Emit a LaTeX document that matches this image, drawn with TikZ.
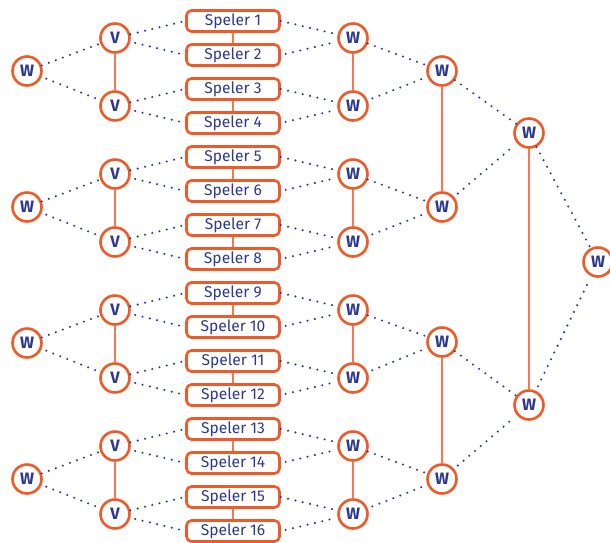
\documentclass[tikz,border=0pt]{standalone}
\usepackage{fontspec}
\setmainfont{Fira Sans}
\usetikzlibrary{positioning}

\begin{document}
\begin{tikzpicture}[x=1pt,y=-1pt,every node/.style={font=\fontsize{15.6}{18}\selectfont}]

    % Colors
    \definecolor{rim}{RGB}{239,90,40}
    \definecolor{rimlight}{RGB}{244,120,80}
    \definecolor{ink}{RGB}{43,57,144}

    \tikzset{
      speler/.style={draw=rim, line width=2.6pt, rounded corners=5pt, fill=white,
        minimum width=93pt, minimum height=21pt, inner sep=0pt, text=ink,
        text height=11pt, text depth=3pt},
      ronde/.style={circle, draw=rim, line width=2.6pt, fill=white,
        minimum size=29pt, inner sep=0pt, text=ink, font=\fontsize{16.5}{18}\selectfont\bfseries},
      stip/.style={draw=ink, line width=2.3pt, line cap=round, dash pattern=on 0pt off 7.5pt,
        shorten <=5pt, shorten >=5pt},
      lijn/.style={draw=rimlight, line width=1.6pt}
    }

    \useasboundingbox (0,0) rectangle (610,542);

    % ======================
    % Spelers
    % ======================
    \node[speler] (s1)  at (233,21)  {Speler 1};
    \node[speler] (s2)  at (233,55)  {Speler 2};
    \node[speler] (s3)  at (233,89)  {Speler 3};
    \node[speler] (s4)  at (233,123) {Speler 4};
    \node[speler] (s5)  at (233,157) {Speler 5};
    \node[speler] (s6)  at (233,191) {Speler 6};
    \node[speler] (s7)  at (233,225) {Speler 7};
    \node[speler] (s8)  at (233,259) {Speler 8};
    \node[speler] (s9)  at (233,293) {Speler 9};
    \node[speler] (s10) at (233,327) {Speler 10};
    \node[speler] (s11) at (233,361) {Speler 11};
    \node[speler] (s12) at (233,395) {Speler 12};
    \node[speler] (s13) at (233,429) {Speler 13};
    \node[speler] (s14) at (233,463) {Speler 14};
    \node[speler] (s15) at (233,497) {Speler 15};
    \node[speler] (s16) at (233,531) {Speler 16};

    % ======================
    % Left side: V and W
    % ======================
    \node[ronde] (v1) at (115,38)  {V};
    \node[ronde] (v2) at (115,106) {V};
    \node[ronde] (v3) at (115,174) {V};
    \node[ronde] (v4) at (115,242) {V};
    \node[ronde] (v5) at (115,310) {V};
    \node[ronde] (v6) at (115,378) {V};
    \node[ronde] (v7) at (115,446) {V};
    \node[ronde] (v8) at (115,514) {V};

    \node[ronde] (l1) at (27,71)  {W};
    \node[ronde] (l2) at (27,207) {W};
    \node[ronde] (l3) at (27,343) {W};
    \node[ronde] (l4) at (27,479) {W};

    % ======================
    % Right side: W rounds
    % ======================
    \node[ronde] (r1) at (353,38)  {W};
    \node[ronde] (r2) at (353,106) {W};
    \node[ronde] (r3) at (353,174) {W};
    \node[ronde] (r4) at (353,242) {W};
    \node[ronde] (r5) at (353,310) {W};
    \node[ronde] (r6) at (353,378) {W};
    \node[ronde] (r7) at (353,446) {W};
    \node[ronde] (r8) at (353,514) {W};

    \node[ronde] (q1) at (442,71)  {W};
    \node[ronde] (q2) at (442,207) {W};
    \node[ronde] (q3) at (442,342) {W};
    \node[ronde] (q4) at (442,479) {W};

    \node[ronde] (h1) at (529,133) {W};
    \node[ronde] (h2) at (529,405) {W};

    \node[ronde] (f) at (598,262) {W};

    % ======================
    % Solid pair lines
    % ======================
    \draw[lijn] (v1) -- (v2) (v3) -- (v4) (v5) -- (v6) (v7) -- (v8);
    \draw[lijn] (s1) -- (s2) (s3) -- (s4) (s5) -- (s6) (s7) -- (s8);
    \draw[lijn] (s9) -- (s10) (s11) -- (s12) (s13) -- (s14) (s15) -- (s16);
    \draw[lijn] (r1) -- (r2) (r3) -- (r4) (r5) -- (r6) (r7) -- (r8);
    \draw[lijn] (q1) -- (q2) (q3) -- (q4);
    \draw[lijn] (h1) -- (h2);

    % ======================
    % Dotted lines, left
    % ======================
    \draw[stip] (l1) -- (v1) (l1) -- (v2);
    \draw[stip] (l2) -- (v3) (l2) -- (v4);
    \draw[stip] (l3) -- (v5) (l3) -- (v6);
    \draw[stip] (l4) -- (v7) (l4) -- (v8);

    \draw[stip] (v1) -- (s1.west) (v1) -- (s2.west);
    \draw[stip] (v2) -- (s3.west) (v2) -- (s4.west);
    \draw[stip] (v3) -- (s5.west) (v3) -- (s6.west);
    \draw[stip] (v4) -- (s7.west) (v4) -- (s8.west);
    \draw[stip] (v5) -- (s9.west) (v5) -- (s10.west);
    \draw[stip] (v6) -- (s11.west) (v6) -- (s12.west);
    \draw[stip] (v7) -- (s13.west) (v7) -- (s14.west);
    \draw[stip] (v8) -- (s15.west) (v8) -- (s16.west);

    % ======================
    % Dotted lines, right
    % ======================
    \draw[stip] (s1.east) -- (r1) (s2.east) -- (r1);
    \draw[stip] (s3.east) -- (r2) (s4.east) -- (r2);
    \draw[stip] (s5.east) -- (r3) (s6.east) -- (r3);
    \draw[stip] (s7.east) -- (r4) (s8.east) -- (r4);
    \draw[stip] (s9.east) -- (r5) (s10.east) -- (r5);
    \draw[stip] (s11.east) -- (r6) (s12.east) -- (r6);
    \draw[stip] (s13.east) -- (r7) (s14.east) -- (r7);
    \draw[stip] (s15.east) -- (r8) (s16.east) -- (r8);

    \draw[stip] (r1) -- (q1) (r2) -- (q1);
    \draw[stip] (r3) -- (q2) (r4) -- (q2);
    \draw[stip] (r5) -- (q3) (r6) -- (q3);
    \draw[stip] (r7) -- (q4) (r8) -- (q4);

    \draw[stip] (q1) -- (h1) (q2) -- (h1);
    \draw[stip] (q3) -- (h2) (q4) -- (h2);

    \draw[stip] (h1) -- (f) (h2) -- (f);

  \end{tikzpicture}
\end{document}
